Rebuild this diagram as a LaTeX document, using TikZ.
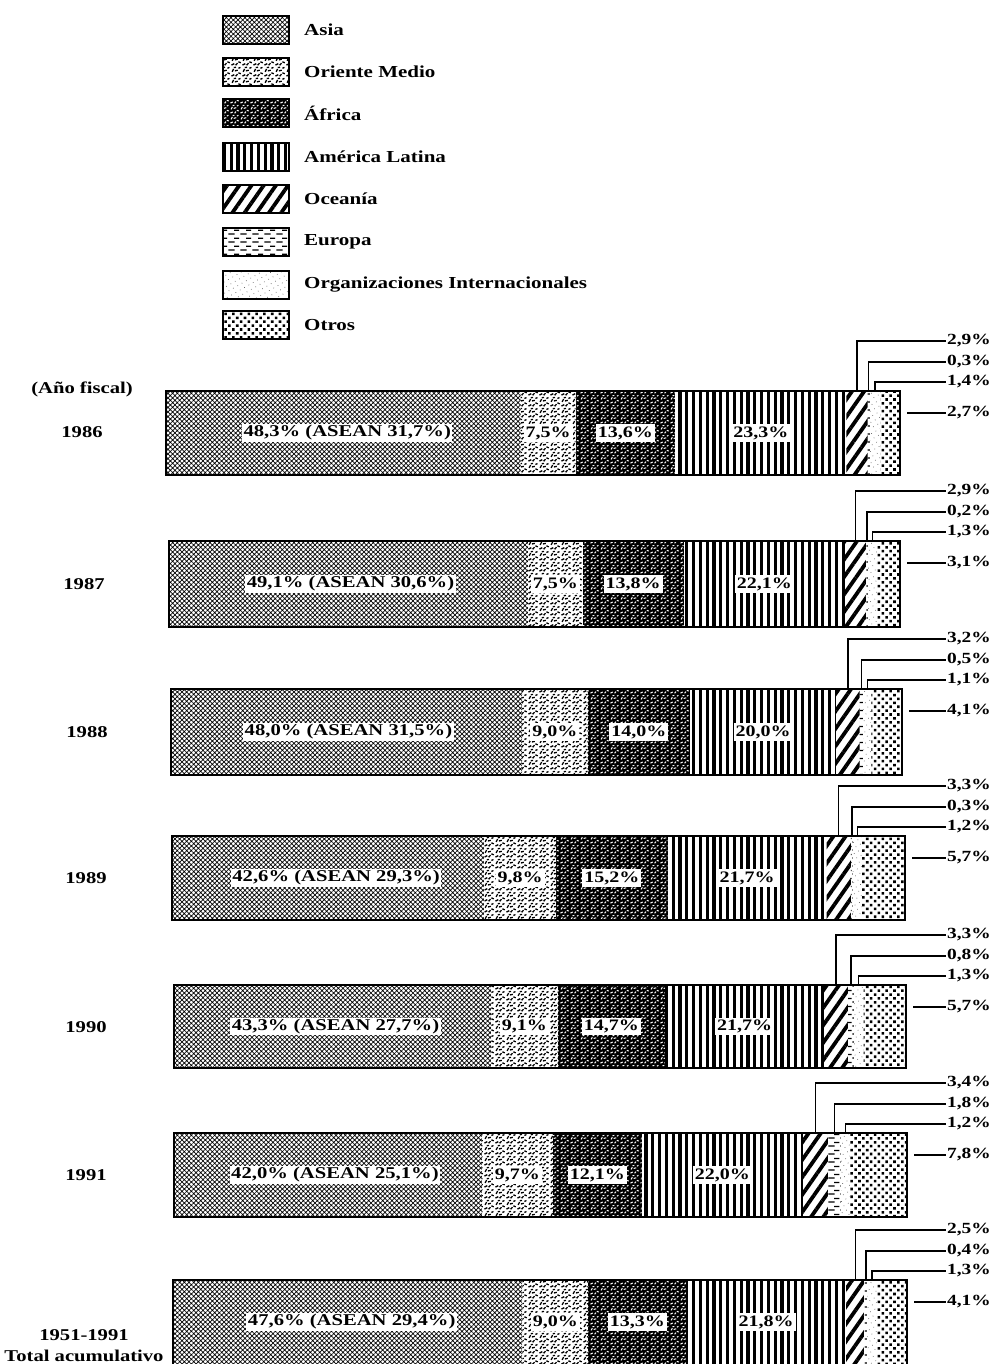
\documentclass[tikz,border=0pt]{standalone}
\usepackage{fontspec}
\setmainfont{Liberation Serif}[FakeStretch=1.25]
\usetikzlibrary{patterns,patterns.meta}

\tikzdeclarepattern{
  name=mottle,
  type=uncolored,
  bounding box={(0pt,0pt) and (10pt,10pt)},
  tile size={(10pt,10pt)},
  code={
    \draw[line width=1.1pt] (0.5pt,1pt)--(3pt,2.2pt) (5pt,0.8pt)--(6.5pt,2.5pt)
      (7.5pt,4pt)--(9.5pt,3.2pt) (1.2pt,5pt)--(2.5pt,7.5pt) (4pt,6pt)--(6.8pt,6.8pt)
      (7.5pt,8.5pt)--(9.2pt,9.4pt) (2.8pt,9pt)--(4.8pt,9.3pt);
  }
}
\tikzdeclarepattern{
  name=mottleB,
  type=uncolored,
  bounding box={(0pt,0pt) and (11pt,11pt)},
  tile size={(11pt,11pt)},
  code={
    \draw[line width=1.4pt] (0.5pt,1pt)--(3.5pt,2.5pt) (5pt,0.8pt)--(7pt,3pt)
      (8pt,4.5pt)--(10.5pt,3.4pt) (1.2pt,5.5pt)--(2.8pt,8.5pt) (4.2pt,6.5pt)--(7.3pt,7.2pt)
      (8pt,9.2pt)--(10.2pt,10.2pt) (3pt,10pt)--(5.4pt,10.3pt);
  }
}
\tikzdeclarepattern{
  name=dashrows,
  type=uncolored,
  bounding box={(0pt,0pt) and (12pt,8pt)},
  tile size={(12pt,8pt)},
  code={
    \fill (0.5pt,1.5pt) rectangle (7pt,2.9pt);
    \fill (6.5pt,5.5pt) rectangle (12pt,6.9pt);
  }
}

\tikzset{
  pA/.style={preaction={fill=white}, pattern={Hatch[angle=45,distance=3.3pt,line width=0.7pt]}, pattern color=black},
  pO/.style={preaction={fill=white}, pattern=mottleB, pattern color=black},
  pF/.style={preaction={fill=black}, pattern=mottle, pattern color=white},
  pL/.style={preaction={fill=white}, pattern={Lines[angle=90,distance=6.8pt,line width=3.2pt]}, pattern color=black},
  pC/.style={preaction={fill=white}, pattern={Lines[angle=55,distance=10pt,line width=3.8pt]}, pattern color=black},
  pE/.style={preaction={fill=white}, pattern=dashrows, pattern color=black},
  pI/.style={preaction={fill=white}, pattern={Dots[radius=0.5pt,distance=5pt,angle=30]}, pattern color=black!60},
  pX/.style={preaction={fill=white}, pattern={Dots[radius=1.8pt,distance=5.5pt,angle=45]}, pattern color=black},
  barframe/.style={draw=black, line width=2.5pt},
  legbox/.style={draw=black, line width=2.5pt, minimum width=66pt, minimum height=28pt, inner sep=0pt},
  legtext/.style={anchor=west, inner sep=0pt, font=\bfseries\fontsize{16.8}{18}\selectfont},
  yl/.style={inner sep=0pt, font=\bfseries\fontsize{16.5}{21}\selectfont},
  inl/.style={fill=white, inner sep=2pt, font=\bfseries\fontsize{16}{18}\selectfont},
  inlbig/.style={fill=white, inner sep=1.5pt, font=\bfseries\fontsize{16.5}{18}\selectfont},
  rl/.style={anchor=west, inner sep=1pt, font=\bfseries\fontsize{15.5}{17}\selectfont},
  leader/.style={draw=black, line width=1.3pt}
}

\newcommand\drawbar[6]{%
  \foreach \p/\s [count=\i, remember=\newcum as \cum (initially 0)] in {#6}{%
    \pgfmathsetmacro\newcum{\cum+\p}%
    \pgfmathsetmacro\xa{#2+(#3-#2)/100*\cum}%
    \pgfmathsetmacro\xb{#2+(#3-#2)/100*\newcum}%
    \fill[\s] (\xa,#4) rectangle (\xb,#5);
    \coordinate (#1-t\i) at ({(\xa+\xb)/2},#4);
    \coordinate (#1-c\i) at ({(\xa+\xb)/2},{(#4+#5)/2});
  }%
  \draw[barframe] (#2,#4) rectangle (#3,#5);
}

\newcommand\rlabels[7]{%
  \node[rl] (#1-r1) at (946,#3-50) {#4};
  \node[rl] (#1-r2) at (946,#3-29) {#5};
  \node[rl] (#1-r3) at (946,#3-9) {#6};
  \node[rl] (#1-r4) at (946,#3+22) {#7};
  \coordinate (#1-o) at (#2+7,#3+22);
  \draw[leader] (#1-t5) |- (#1-r1.west);
  \draw[leader] (#1-t6) |- (#1-r2.west);
  \draw[leader] (#1-t7) |- (#1-r3.west);
  \draw[leader] (#1-o) -- (#1-r4.west);
}

\begin{document}
\begin{tikzpicture}[x=1pt,y=-1pt]
\clip (0,0) rectangle (998,1364);
\fill[white] (0,0) rectangle (998,1364);

% legend
\node[legbox,pA] (lg1) at (256,30) {};
\node[legbox,pO] (lg2) at (256,72) {};
\node[legbox,pF] (lg3) at (256,113) {};
\node[legbox,pL] (lg4) at (256,157) {};
\node[legbox,pC] (lg5) at (256,199) {};
\node[legbox,pE] (lg6) at (256,242) {};
\node[legbox,pI] (lg7) at (256,285) {};
\node[legbox,pX] (lg8) at (256,325) {};
\node[legtext] (lt1) at (304,30) {Asia};
\node[legtext] (lt2) at (304,72) {Oriente Medio};
\node[legtext] (lt3) at (304,113) {África};
\node[legtext] (lt4) at (304,157) {América Latina};
\node[legtext] (lt5) at (304,199) {Oceanía};
\node[legtext] (lt6) at (304,242) {Europa};
\node[legtext] (lt7) at (304,285) {Organizaciones Internacionales};
\node[legtext] (lt8) at (304,325) {Otros};

% bars
\drawbar{b86}{166}{900}{391}{475}{48.3/pA,7.5/pO,13.6/pF,23.3/pL,2.9/pC,0.3/pE,1.4/pI,2.7/pX}
\drawbar{b87}{169}{900}{541}{627}{49.1/pA,7.5/pO,13.8/pF,22.1/pL,2.9/pC,0.2/pE,1.3/pI,3.1/pX}
\drawbar{b88}{171}{902}{689}{775}{48.0/pA,9.0/pO,14.0/pF,20.0/pL,3.2/pC,0.5/pE,1.1/pI,4.2/pX}
\drawbar{b89}{172}{905}{836}{920}{42.6/pA,9.8/pO,15.2/pF,21.7/pL,3.3/pC,0.3/pE,1.2/pI,5.9/pX}
\drawbar{b90}{174}{906}{985}{1068}{43.3/pA,9.1/pO,14.7/pF,21.7/pL,3.3/pC,0.8/pE,1.3/pI,5.8/pX}
\drawbar{b91}{174}{907}{1133}{1217}{42.0/pA,9.7/pO,12.1/pF,22.0/pL,3.4/pC,1.8/pE,1.2/pI,7.8/pX}
\drawbar{bt}{173}{907}{1280}{1372}{47.6/pA,9.0/pO,13.3/pF,21.8/pL,2.5/pC,0.4/pE,1.3/pI,4.1/pX}

% inner labels
\node[inlbig,xshift=4pt] (b86-a) at (b86-c1) {48,3\% (ASEAN 31,7\%)};
\node[inl] (b86-b) at (b86-c2) {7,5\%};
\node[inl] (b86-f) at (b86-c3) {13,6\%};
\node[inl] (b86-l) at (b86-c4) {23,3\%};

\node[inlbig,xshift=2pt] (b87-a) at (b87-c1) {49,1\% (ASEAN 30,6\%)};
\node[inl] (b87-b) at (b87-c2) {7,5\%};
\node[inl] (b87-f) at (b87-c3) {13,8\%};
\node[inl] (b87-l) at (b87-c4) {22,1\%};

\node[inlbig,xshift=2pt] (b88-a) at (b88-c1) {48,0\% (ASEAN 31,5\%)};
\node[inl] (b88-b) at (b88-c2) {9,0\%};
\node[inl] (b88-f) at (b88-c3) {14,0\%};
\node[inl] (b88-l) at (b88-c4) {20,0\%};

\node[inlbig,xshift=8pt] (b89-a) at (b89-c1) {42,6\% (ASEAN 29,3\%)};
\node[inl] (b89-b) at (b89-c2) {9,8\%};
\node[inl] (b89-f) at (b89-c3) {15,2\%};
\node[inl] (b89-l) at (b89-c4) {21,7\%};

\node[inlbig,xshift=3pt] (b90-a) at (b90-c1) {43,3\% (ASEAN 27,7\%)};
\node[inl] (b90-b) at (b90-c2) {9,1\%};
\node[inl] (b90-f) at (b90-c3) {14,7\%};
\node[inl] (b90-l) at (b90-c4) {21,7\%};

\node[inlbig,xshift=7pt] (b91-a) at (b91-c1) {42,0\% (ASEAN 25,1\%)};
\node[inl] (b91-b) at (b91-c2) {9,7\%};
\node[inl] (b91-f) at (b91-c3) {12,1\%};
\node[inl] (b91-l) at (b91-c4) {22,0\%};

\node[inlbig,xshift=4pt,yshift=4pt] (bt-a) at (bt-c1) {47,6\% (ASEAN 29,4\%)};
\node[inl,yshift=4pt] (bt-b) at (bt-c2) {9,0\%};
\node[inl,yshift=4pt] (bt-f) at (bt-c3) {13,3\%};
\node[inl,yshift=4pt] (bt-l) at (bt-c4) {21,8\%};

% right labels and leaders
\rlabels{b86}{900}{391}{2,9\%}{0,3\%}{1,4\%}{2,7\%}
\rlabels{b87}{900}{541}{2,9\%}{0,2\%}{1,3\%}{3,1\%}
\rlabels{b88}{902}{689}{3,2\%}{0,5\%}{1,1\%}{4,1\%}
\rlabels{b89}{905}{836}{3,3\%}{0,3\%}{1,2\%}{5,7\%}
\rlabels{b90}{906}{985}{3,3\%}{0,8\%}{1,3\%}{5,7\%}
\rlabels{b91}{907}{1133}{3,4\%}{1,8\%}{1,2\%}{7,8\%}
\rlabels{bt}{907}{1280}{2,5\%}{0,4\%}{1,3\%}{4,1\%}

% year labels
\node[yl] (fy) at (82,389) {(Año fiscal)};
\node[yl] (y86) at (82,432) {1986};
\node[yl] (y87) at (84,584) {1987};
\node[yl] (y88) at (87,732) {1988};
\node[yl] (y89) at (86,878) {1989};
\node[yl] (y90) at (86,1027) {1990};
\node[yl] (y91) at (86,1175) {1991};
\node[yl,align=center] (ytot) at (84,1346) {1951-1991\\Total acumulativo};
\end{tikzpicture}
\end{document}
